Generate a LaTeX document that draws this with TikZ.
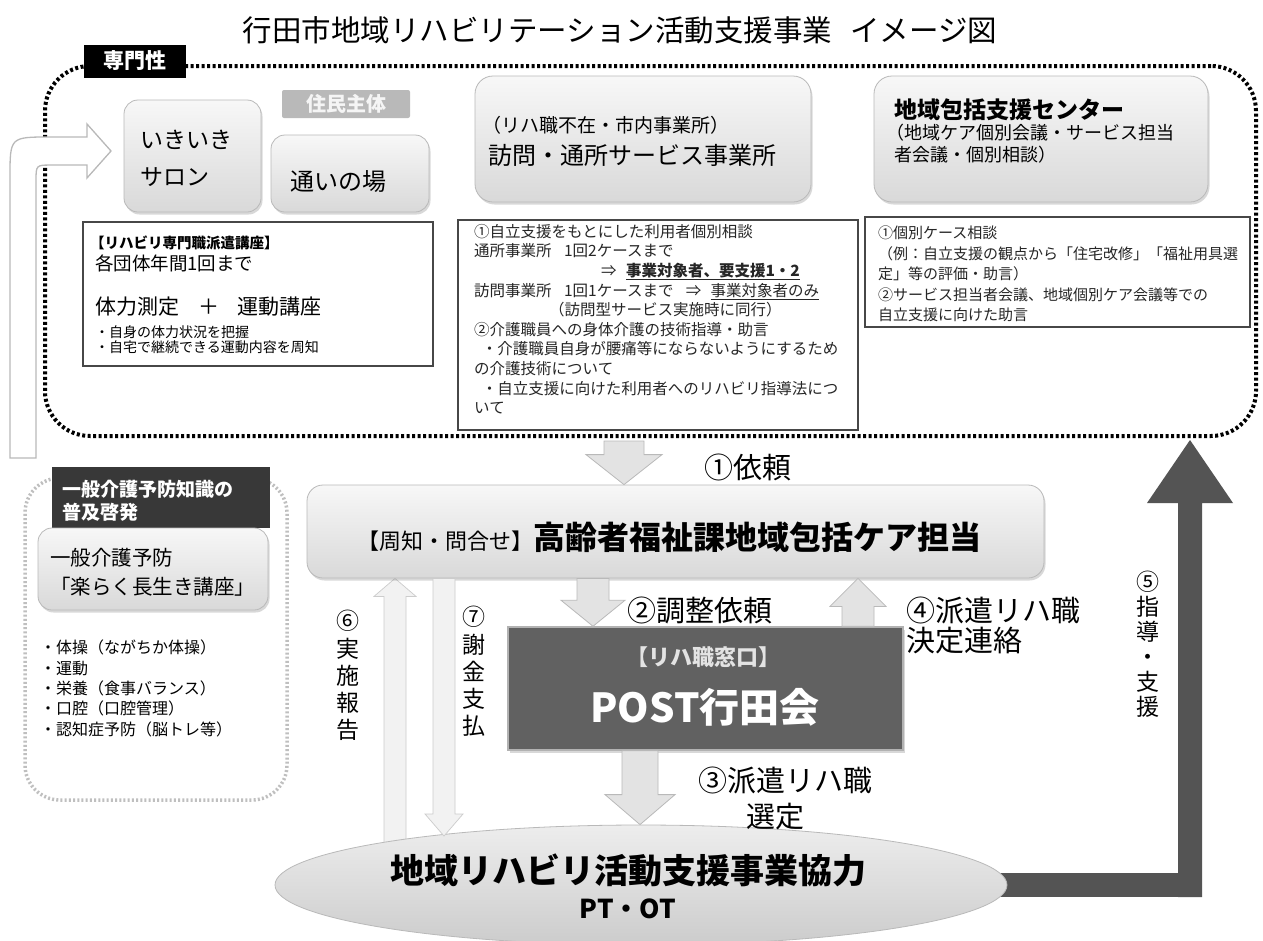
\documentclass[tikz,border=0pt]{standalone}
\usepackage{fontspec}
\setmainfont{Noto Sans CJK JP}
\usetikzlibrary{calc,shadows,shapes.geometric}
\pgfdeclarelayer{background}
\pgfsetlayers{background,main}
\newcommand\blkarrow[6][]{%
  \filldraw[#1] let \p1=(#2), \p2=(#3), \p3=($(#3)!#6!(#2)$) in
    (\x1-#4,\y1) -- (\x1-#4,\y3) -- (\x1-#5,\y3) -- (\x2,\y2) --
    (\x1+#5,\y3) -- (\x1+#4,\y3) -- (\x1+#4,\y1) -- cycle;}
\begin{document}
\begin{tikzpicture}[x=1pt,y=-1pt,
  gbox/.style={draw=gray!55, line width=0.8pt, rounded corners=14pt, top color=gray!6, bottom color=gray!30, drop shadow={shadow xshift=1.5pt, shadow yshift=-2.5pt, opacity=0.3}},
  tbox/.style={draw=black!72, line width=2pt, fill=white},
  frame/.style={draw=black, line width=4pt, dash pattern=on 3pt off 2.5pt, rounded corners=45pt},
  arr/.style={fill=gray!22, draw=gray!55, line width=0.8pt},
  larr/.style={fill=gray!10, draw=gray!40, line width=0.7pt},
  lbl/.style={inner sep=0pt, anchor=west},
  big/.style={font=\fontsize{29}{29}\selectfont},
]
\useasboundingbox (0,0) rectangle (1263,940);
\begin{pgfonlayer}{background}
\fill[white] (0,0) rectangle (1263,940);
\end{pgfonlayer}

% title
\node[font=\fontsize{29.5}{32}\selectfont, inner sep=0] (title) at (620,30) {行田市地域リハビリテーション活動支援事業\hspace{0.6em}イメージ図};

% big dotted frame
\node[frame, minimum width=1211pt, minimum height=370pt, inner sep=0] (sen) at (650.5,251) {};

% hollow arrow on the left
\filldraw[fill=white, draw=gray!55, line width=1.3pt] (10,458) -- (10,177) .. controls (10,137) .. (50,137) -- (87,137) -- (87,124) -- (111,151) -- (87,178) -- (87,165) -- (52,165) .. controls (36,165) .. (36,181) -- (36,458) -- cycle;

\node[fill=black, text=white, font=\bfseries\fontsize{21}{21}\selectfont, minimum width=102pt, minimum height=33pt, inner sep=0] (senlab) at (135,61) {専門性};

% top boxes
\node[gbox, minimum width=137pt, minimum height=112pt, inner sep=0] (salon) at (192.5,156) {};
\node[lbl, align=left, font=\fontsize{23}{37}\selectfont] (salont) at (140,158.5) {いきいき\\サロン};

\node[fill=gray!55, text=gray!8, rounded corners=2pt, font=\bfseries\fontsize{20}{20}\selectfont, minimum width=128pt, minimum height=28pt, inner sep=0] (jumin) at (346,104) {住民主体};
\node[gbox, minimum width=158pt, minimum height=77pt, inner sep=0] (kayoi) at (350,173.5) {};
\node[lbl, font=\fontsize{24}{24}\selectfont] (kayoit) at (290,182) {通いの場};

\node[gbox, minimum width=336pt, minimum height=126pt, rounded corners=18pt, inner sep=0] (homon) at (643,139) {};
\node[lbl, font=\fontsize{19}{19}\selectfont] (homont1) at (482,125) {（リハ職不在・市内事業所）};
\node[lbl, font=\fontsize{24}{24}\selectfont] (homont2) at (488,155) {訪問・通所サービス事業所};

\node[gbox, minimum width=334pt, minimum height=126pt, rounded corners=18pt, inner sep=0] (chiiki) at (1041,139) {};
\node[lbl, font=\bfseries\fontsize{23}{23}\selectfont] (chiikit1) at (894,110) {地域包括支援センター};
\node[lbl, font=\fontsize{18}{18}\selectfont] (chiikit2) at (886,133) {（地域ケア個別会議・サービス担当};
\node[lbl, font=\fontsize{18}{18}\selectfont] (chiikit3) at (894,155) {者会議・個別相談）};

% text boxes
\node[tbox, minimum width=350pt, minimum height=144pt, inner sep=0] (koza) at (258,294) {};
\node[lbl, font=\bfseries\fontsize{14.5}{15}\selectfont] (koza1) at (90,243) {【リハビリ専門職派遣講座】};
\node[lbl, font=\fontsize{18.5}{19}\selectfont] (koza2) at (95,263) {各団体年間1回まで};
\node[lbl, font=\fontsize{21}{21}\selectfont] (koza3) at (95,307) {体力測定\hspace{0.9em}＋\hspace{0.9em}運動講座};
\node[lbl, font=\fontsize{14}{14}\selectfont] (koza4) at (95,332) {・自身の体力状況を把握};
\node[lbl, font=\fontsize{14}{14}\selectfont] (koza5) at (95,347) {・自宅で継続できる運動内容を周知};

\node[tbox, minimum width=400pt, minimum height=210pt, inner sep=0] (shien) at (658,325) {};
\node[anchor=north west, inner sep=0, align=left, text=black!85, font=\fontsize{15.5}{19.6}\selectfont] (shient) at (474,224) {①自立支援をもとにした利用者個別相談\\
通所事業所\hspace{0.8em}1回2ケースまで\\
\hspace{127pt}⇒\hspace{0.6em}\underline{\textbf{事業対象者、要支援1・2}}\\
訪問事業所\hspace{0.8em}1回1ケースまで\hspace{0.8em}⇒\hspace{0.6em}\underline{事業対象者のみ}\\
\hspace{75pt}（訪問型サービス実施時に同行）\\
②介護職員への身体介護の技術指導・助言\\
\hspace{0.5em}・介護職員自身が腰痛等にならないようにするため\\
の介護技術について\\
\hspace{0.5em}・自立支援に向けた利用者へのリハビリ指導法につ\\
いて};

\node[tbox, minimum width=385pt, minimum height=110pt, inner sep=0] (chiikis) at (1057.5,272) {};
\node[anchor=north west, inner sep=0, align=left, text=black!85, font=\fontsize{15}{20.5}\selectfont] (chiikist) at (878,226) {①個別ケース相談\\（例：自立支援の観点から「住宅改修」「福祉用具選\\定」等の評価・助言）\\②サービス担当者会議、地域個別ケア会議等での\\自立支援に向けた助言};

% left lower group
\node[draw=gray!50, line width=3.5pt, dash pattern=on 2pt off 2.2pt, rounded corners=35pt, minimum width=262pt, minimum height=322pt, inner sep=0] (ippan) at (156,639) {};
\node[fill=black!78, minimum width=218pt, minimum height=61pt, inner sep=0] (ihead) at (161,497.5) {};
\node[lbl, align=left, text=white, font=\bfseries\fontsize{19}{23}\selectfont] (iheadt) at (62,500.5) {一般介護予防知識の\\普及啓発};
\node[gbox, minimum width=230pt, minimum height=82pt, inner sep=0] (ikoza) at (153,569) {};
\node[lbl, align=left, font=\fontsize{20.5}{29}\selectfont] (ikozat) at (50,572.5) {一般介護予防\\「楽らく長生き講座」};
\node[anchor=north west, inner sep=0, align=left, font=\fontsize{16}{20.3}\selectfont] (ilist) at (40,640) {・体操（ながちか体操）\\・運動\\・栄養（食事バランス）\\・口腔（口腔管理）\\・認知症予防（脳トレ等）};

% center boxes
\node[gbox, minimum width=737pt, minimum height=93pt, rounded corners=16pt, inner sep=0] (kb) at (675.5,531.5) {};
\node[inner sep=0] (kbt) at (669,537) {{\fontsize{22}{22}\selectfont【周知・問合せ】}{\bfseries\fontsize{32}{32}\selectfont 高齢者福祉課地域包括ケア担当}};

\node[fill=black!62, draw=gray!60, line width=1.5pt, minimum width=395pt, minimum height=123pt, inner sep=0, drop shadow={shadow xshift=1.5pt, shadow yshift=-2.5pt, opacity=0.3}] (post) at (705.5,688.5) {};
\node[inner sep=0, text=gray!22, font=\bfseries\fontsize{22}{22}\selectfont] (postt1) at (703,657) {【リハ職窓口】};
\node[inner sep=0, text=white, font=\bfseries\fontsize{40}{40}\selectfont] (postt2) at (705,707) {POST行田会};

\node[ellipse, draw=gray!55, line width=0.8pt, top color=gray!14, bottom color=gray!40, minimum width=732pt, minimum height=120pt, inner sep=0] (ell) at (641,885) {};
\node[inner sep=0, font=\bfseries\fontsize{34}{34}\selectfont] (ellt1) at (628,870) {地域リハビリ活動支援事業協力};
\node[inner sep=0, font=\bfseries\fontsize{26}{26}\selectfont] (ellt2) at (628,909) {PT・OT};

% arrow end points
\coordinate (c1) at (624,0);
\coordinate (c2) at (593,0);
\coordinate (c3) at (640,0);
\coordinate (c4) at (858,0);
\coordinate (c5) at (1190,0);
\coordinate (c6) at (395,0);
\coordinate (c7) at (444,0);
\coordinate (a1s) at (624,441);
\coordinate (a1e) at (kb.north -| c1);
\coordinate (a2s) at (kb.south -| c2);
\coordinate (a2e) at (post.north -| c2);
\coordinate (a3s) at (post.south -| c3);
\coordinate (a3e) at (ell.north -| c3);
\coordinate (a4s) at (post.north -| c4);
\coordinate (a4e) at (kb.south -| c4);
\coordinate (a6s) at (395,850);
\coordinate (a6e) at (kb.south -| c6);
\coordinate (a7s) at (kb.south -| c7);
\coordinate (a7e) at (444,836);
\coordinate (a5c) at (ell.east -| c5);
\coordinate (a5d) at (1190,897);
\coordinate (a5t) at (1190,440);

\begin{pgfonlayer}{background}
\draw[line width=24pt, draw=black!67] (ell.center) -- ([xshift=12pt]a5c);
\blkarrow[fill=black!67, draw=none]{a5d}{a5t}{12pt}{43pt}{63pt}
\blkarrow[larr]{a6s}{a6e}{11pt}{21pt}{18pt}
\end{pgfonlayer}

\blkarrow[arr]{a1s}{a1e}{20pt}{38pt}{30pt}
\blkarrow[arr]{a2s}{a2e}{16pt}{32pt}{26pt}
\blkarrow[arr]{a4s}{a4e}{16pt}{28pt}{28pt}
\blkarrow[arr]{a3s}{a3e}{18pt}{35pt}{30pt}
\blkarrow[larr]{a7s}{a7e}{11pt}{19pt}{22pt}

% labels
\node[inner sep=0, big] (l1) at (748,467) {①依頼};
\node[lbl, big] (l2) at (627,610) {②調整依頼};
\node[lbl, big] (l4a) at (906,610) {④派遣リハ職};
\node[lbl, big] (l4b) at (906,641) {決定連絡};
\node[lbl, big] (l3a) at (698,780) {③派遣リハ職};
\node[lbl, big] (l3b) at (746,817) {選定};
\node[inner sep=0, align=center, font=\fontsize{23}{27.2}\selectfont] (l6) at (348,675.5) {⑥\\実\\施\\報\\告};
\node[inner sep=0, align=center, font=\fontsize{23}{27.2}\selectfont] (l7) at (474,671.5) {⑦\\謝\\金\\支\\払};
\node[inner sep=0, align=center, font=\fontsize{23}{25}\selectfont] (l5) at (1148,644.5) {⑤\\指\\導\\・\\支\\援};
\end{tikzpicture}
\end{document}
